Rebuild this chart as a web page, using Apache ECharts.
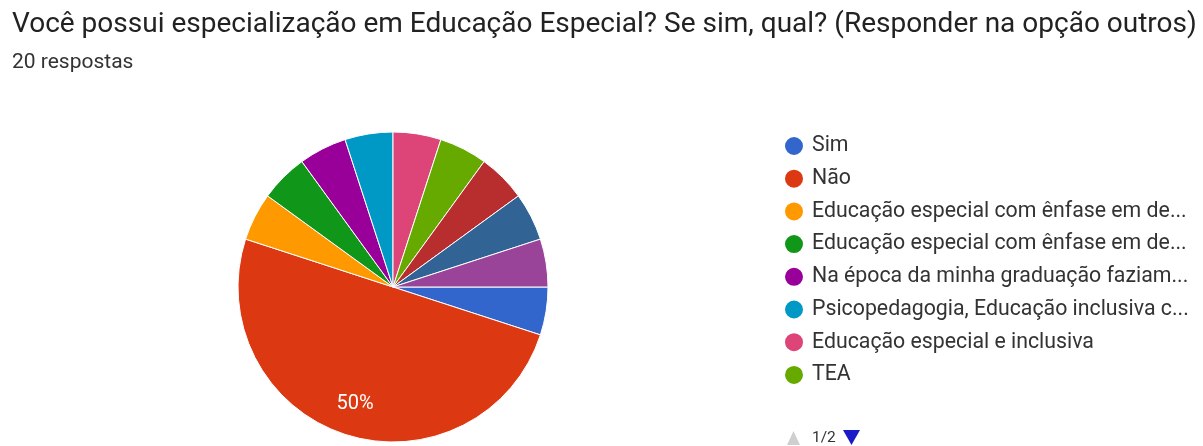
<!DOCTYPE html>
<html>
<head>
<meta charset="utf-8">
<script src="https://cdn.jsdelivr.net/npm/echarts@6/dist/echarts.min.js"></script>
<style>html,body{margin:0;padding:0;background:#fff;}#chart{width:1203px;height:446px;}</style>
</head>
<body>
<div id="chart"></div>
<script>
const titleText = 'Você possui especialização em Educação Especial? Se sim, qual? (Responder na opção outros)';
const subtitleText = '20 respostas';
const categories = [
  'Sim',
  'Não',
  'Educação especial com ênfase em deficiência intelectual',
  'Educação especial com ênfase em deficiência auditiva',
  'Na época da minha graduação faziam parte da grade',
  'Psicopedagogia, Educação inclusiva com ênfase em TEA',
  'Educação especial e inclusiva',
  'TEA',
  'Atendimento Educacional Especializado',
  'Educação inclusiva',
  'Libras'
];
const counts = [1, 10, 1, 1, 1, 1, 1, 1, 1, 1, 1];
const colors = ['#3366cc','#dc3912','#ff9900','#109618','#990099','#0099c6','#dd4477','#66aa00','#b82e2e','#316395','#994499'];
const legendPageSize = 8;
const pageLabel = '1/2';

const legendFont = '21.3px Roboto';
const legendMaxWidth = 378;
const measureCtx = document.createElement('canvas').getContext('2d');
measureCtx.font = legendFont;
function fitText(name) {
  if (measureCtx.measureText(name).width <= legendMaxWidth) return name;
  let s = name;
  while (s.length && measureCtx.measureText(s + '...').width > legendMaxWidth) s = s.slice(0, -1);
  return s + '...';
}

const data = categories.map((n, i) => ({ name: n, value: counts[i] }));
const chart = echarts.init(document.getElementById('chart'));
chart.setOption({
  backgroundColor: '#fff',
  color: colors,
  animation: false,
  title: [
    { text: titleText, left: 12, top: 11, padding: 0, textStyle: { fontFamily: 'Roboto', fontSize: 28, fontWeight: 'normal', color: '#222' } },
    { text: subtitleText, left: 12, top: 52, padding: 0, textStyle: { fontFamily: 'Roboto', fontSize: 21, fontWeight: 'normal', color: '#333' } }
  ],
  legend: {
    orient: 'vertical',
    left: 783,
    top: 135,
    padding: 0,
    icon: 'circle',
    itemWidth: 20,
    itemHeight: 20,
    itemGap: 10.7,
    selectedMode: false,
    formatter: fitText,
    textStyle: { fontFamily: 'Roboto', fontSize: 21.3, color: '#333', lineHeight: 20, padding: [0, 0, 0, 3] },
    data: categories.slice(0, legendPageSize)
  },
  graphic: [
    { type: 'polygon', shape: { points: [[787, 445], [800, 445], [793.5, 431]] }, style: { fill: '#cfcfcf' } },
    { type: 'text', left: 812, top: 430, style: { text: pageLabel, fontFamily: 'Roboto', fontSize: 15.5, fill: '#333' } },
    { type: 'polygon', shape: { points: [[843, 430], [860, 430], [851.5, 445]] }, style: { fill: '#1a1ac8' } }
  ],
  series: [
    {
      type: 'pie',
      center: [393, 287],
      radius: [0, 155],
      startAngle: 0,
      clockwise: true,
      label: { show: false },
      labelLine: { show: false },
      itemStyle: { borderColor: '#fff', borderWidth: 1 },
      emphasis: { disabled: true },
      data: data
    },
    {
      type: 'pie',
      center: [393, 287],
      radius: [84, 155],
      startAngle: 0,
      clockwise: true,
      silent: true,
      itemStyle: { color: 'rgba(0,0,0,0)' },
      label: {
        show: true, position: 'inside', color: '#fff', fontFamily: 'Roboto', fontSize: 20,
        formatter: p => p.percent >= 10 ? Math.round(p.percent) + '%' : ''
      },
      labelLine: { show: false },
      emphasis: { disabled: true },
      data: data
    }
  ]
});
</script>
</body>
</html>
